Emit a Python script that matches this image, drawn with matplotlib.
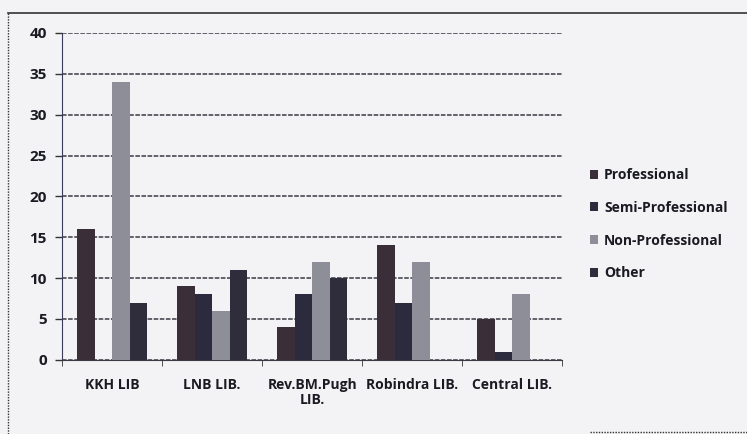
import matplotlib.pyplot as plt
import numpy as np
from matplotlib.lines import Line2D

# Staff category counts per library
libraries = ["KKH LIB", "LNB LIB.", "Rev.BM.Pugh\nLIB.", "Robindra LIB.", "Central LIB."]
professional = [16, 9, 4, 14, 5]
semi_professional = [0, 8, 8, 7, 1]
non_professional = [34, 6, 12, 12, 8]
other = [7, 11, 10, 0, 0]

series = ["Professional", "Semi-Professional", "Non-Professional", "Other"]
colors = ["#3a2f38", "#2c2b3e", "#8e8e98", "#2f2c3c"]

plt.rcParams["font.family"] = ["Open Sans", "DejaVu Sans"]
plt.rcParams["font.weight"] = "bold"

fig = plt.figure(figsize=(7.47, 4.34), dpi=100, facecolor="#f3f3f5")
ax = fig.add_axes([0.083, 0.171, 0.670, 0.753])
ax.set_facecolor("#f3f3f5")

x = np.arange(len(libraries))
w = 0.175
for i, (name, vals) in enumerate(zip(series, [professional, semi_professional, non_professional, other])):
    ax.bar(x + (i - 1.5) * w, vals, width=w, color=colors[i], label=name, zorder=3)

ax.set_xlim(-0.5, len(libraries) - 0.5)
ax.set_ylim(0, 40)
ax.set_yticks(range(0, 41, 5))
ax.set_yticklabels([str(v) for v in range(0, 41, 5)], fontweight="bold", fontsize=11)
ax.set_xticks(x)
ax.set_xticklabels(libraries, fontsize=10, fontweight="bold", color="#1a1a22", linespacing=1.1)
ax.tick_params(axis="x", length=0, pad=13)
ax.tick_params(axis="y", length=5, width=1, color="#333", labelcolor="#1a1a22", pad=6)
ax.set_xticks(np.arange(-0.5, len(libraries)), minor=True)
ax.tick_params(axis="x", which="minor", length=4, color="#333")

ax.grid(axis="y", color="#3a3a44", linewidth=1.1, linestyle=(0, (3, 1)), zorder=0)
for s in ["top", "right"]:
    ax.spines[s].set_visible(False)
ax.spines["left"].set_color("#3a3a5a")
ax.spines["bottom"].set_color("#3a3a44")
ax.spines["bottom"].set_linestyle((0, (3, 1)))

leg = ax.legend(loc="center left", bbox_to_anchor=(1.03, 0.415), frameon=False,
                prop={"size": 10, "weight": "bold"}, handlelength=0.6, handleheight=0.6,
                handletextpad=0.4, labelspacing=1.35, labelcolor="#1a1a22")

# outer chart border
fig.add_artist(Line2D([0.011, 1.0], [0.97, 0.97], color="#333", linewidth=1.2))
fig.add_artist(Line2D([0.011, 0.011], [0.0, 0.97], color="#333", linewidth=1, linestyle=(0, (1, 1))))
fig.add_artist(Line2D([0.79, 1.0], [0.005, 0.005], color="#333", linewidth=1, linestyle=(0, (1, 1))))

fig.savefig("out.png", dpi=100, facecolor=fig.get_facecolor())
